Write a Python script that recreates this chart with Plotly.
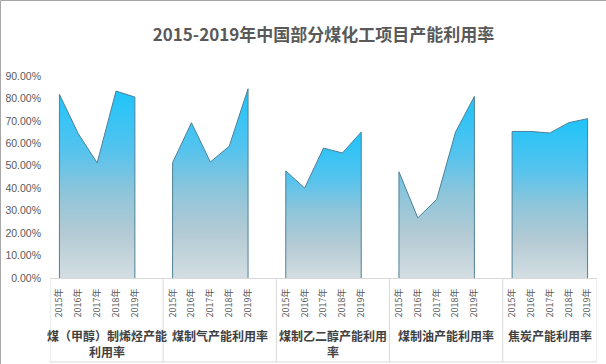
import plotly.graph_objects as go

# ---- data ----
groups = ["煤（甲醇）制烯烃产能利用率", "煤制气产能利用率", "煤制乙二醇产能利用率", "煤制油产能利用率", "焦炭产能利用率"]
group_display = ["煤（甲醇）制烯烃产能<br>利用率", "煤制气产能利用率", "煤制乙二醇产能利用<br>率", "煤制油产能利用率", "焦炭产能利用率"]
years = ["2015年", "2016年", "2017年", "2018年", "2019年"]
olefin = [0.818, 0.643, 0.513, 0.833, 0.806]
gas = [0.514, 0.692, 0.517, 0.587, 0.843]
glycol = [0.477, 0.401, 0.579, 0.557, 0.650]
oil = [0.473, 0.268, 0.350, 0.650, 0.809]
coke = [0.653, 0.653, 0.646, 0.692, 0.710]
series = [olefin, gas, glycol, oil, coke]
title = "2015-2019年中国部分煤化工项目产能利用率"

W, H = 606, 364
ML, MR, MT, MB = 50, 9, 76, 86
ymax = 0.9
step = len(years) + 1
total_slots = step * (len(groups) - 1) + len(years)

colorscale = [[0, "#D3DEE2"], [0.24, "#B3CAD4"], [0.46, "#8EC5DA"],
              [0.68, "#55C3EE"], [1, "#1EC4FA"]]

fig = go.Figure()
tickvals, ticktext = [], []
for g, vals in enumerate(series):
    xs = [g * step + i + 0.5 for i in range(len(years))]
    tickvals += xs
    ticktext += years
    fig.add_trace(go.Scatter(
        x=[xs[0]] + xs + [xs[-1]], y=[0] + vals + [0],
        mode="lines", fill="tozeroy",
        line=dict(color="#4E8098", width=1),
        fillgradient=dict(type="vertical", colorscale=colorscale),
        name=groups[g], showlegend=False, hoverinfo="skip"))

plot_h = H - MT - MB
plot_w = W - ML - MR
bottom_paper = -(MB - 2) / plot_h  # near figure bottom

bounds = [g * step for g in range(len(groups))] + [total_slots]
shapes = []
for b in bounds:
    shapes.append(dict(type="line", xref="x", yref="paper", x0=b, x1=b,
                       y0=0, y1=bottom_paper, line=dict(color="#D9D9D9", width=1)))
shapes.append(dict(type="line", xref="x", yref="paper", x0=0, x1=total_slots,
                   y0=bottom_paper, y1=bottom_paper, line=dict(color="#D9D9D9", width=1)))
# outer frame (left and top)
left_paper = -(ML - 0.5) / plot_w
top_paper = 1 + (MT - 0.5) / plot_h
shapes.append(dict(type="line", xref="paper", yref="paper", x0=left_paper, x1=left_paper,
                   y0=top_paper, y1=-(MB + 2) / plot_h, line=dict(color="#A6A6A6", width=1)))
shapes.append(dict(type="line", xref="paper", yref="paper", x0=left_paper, x1=1 + MR / plot_w,
                   y0=top_paper, y1=top_paper, line=dict(color="#A6A6A6", width=1)))

annotations = []
for g in range(len(groups)):
    annotations.append(dict(
        x=(bounds[g] + bounds[g + 1]) / 2, xref="x", y=-0.24, yref="paper",
        yanchor="top", xanchor="center", showarrow=False,
        text=group_display[g], borderpad=0,
        font=dict(family="Noto Sans CJK SC", size=12, color="#404040", weight="bold")))

fig.update_layout(
    width=W, height=H,
    margin=dict(l=ML, r=MR, t=MT, b=MB, autoexpand=False),
    paper_bgcolor="white", plot_bgcolor="white",
    title=dict(text=title, x=0.5, xref="paper", xanchor="center", y=1 - 35 / H, yanchor="middle",
               automargin=False,
               font=dict(family="Noto Sans CJK SC", size=17, color="#595959", weight="bold")),
    xaxis=dict(range=[0, total_slots], tickvals=tickvals, ticktext=ticktext, tickangle=-90,
               showgrid=False, zeroline=False, showline=True, linecolor="#D9D9D9",
               ticks="", ticklabelstandoff=6, automargin=False,
               tickfont=dict(family="Noto Sans CJK SC", size=9, color="#595959")),
    yaxis=dict(range=[0, ymax], tickvals=[i / 10 for i in range(10)], tickformat=".2%",
               showgrid=False, zeroline=False, showline=False, ticks="",
               ticklabelstandoff=8, automargin=False,
               tickfont=dict(family="Liberation Sans", size=10.5, color="#595959")),
    shapes=shapes, annotations=annotations,
)

fig.write_html("out.html", config={"displayModeBar": False},
               post_script="document.body.style.margin='0';")
